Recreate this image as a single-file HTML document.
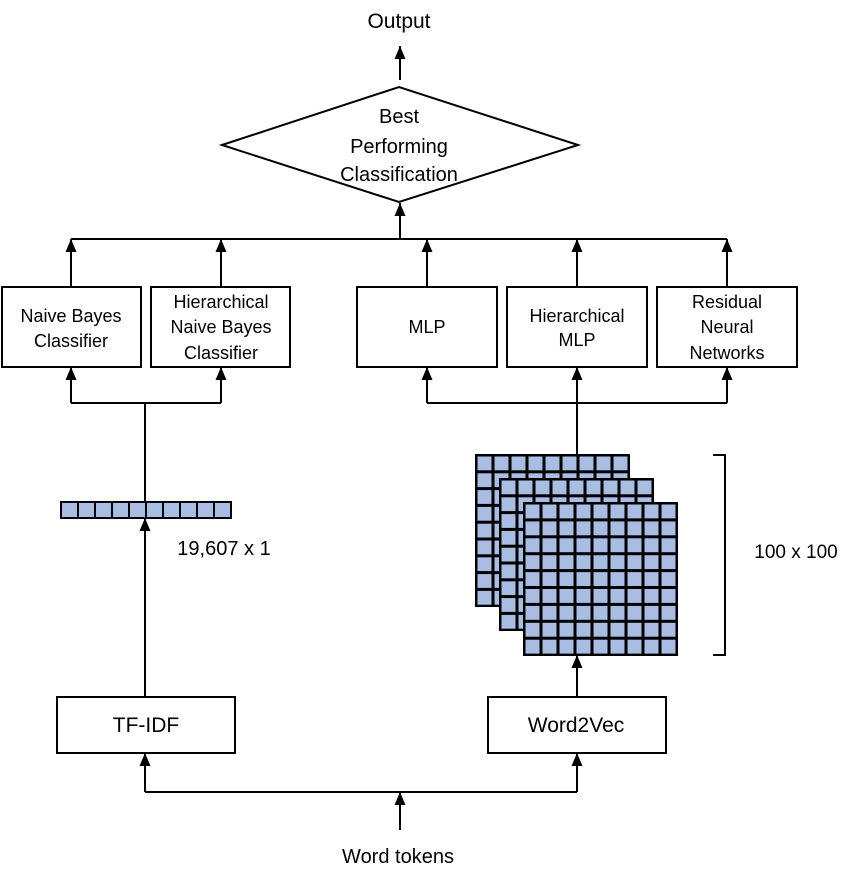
<!DOCTYPE html>
<html><head><meta charset="utf-8"><style>
html,body{margin:0;padding:0;background:#fff;}
svg{display:block;}
text{font-family:"Liberation Sans",sans-serif;font-size:18px;fill:#000;text-anchor:middle;}
</style></head><body>
<svg width="856" height="886" viewBox="0 0 856 886" xmlns="http://www.w3.org/2000/svg">
<defs>
<marker id="a" markerWidth="14" markerHeight="14" viewBox="0 0 14 14" refX="13" refY="7" orient="auto" markerUnits="userSpaceOnUse">
<path d="M0,1.5 L13,7 L0,12.5 Z" fill="#000"/>
</marker>
<pattern id="g1" x="476" y="455" width="17" height="16.8" patternUnits="userSpaceOnUse">
<rect width="17" height="16.8" fill="#a9bde3" stroke="#000" stroke-width="3"/>
</pattern>
<pattern id="g2" x="500" y="479" width="17" height="16.8" patternUnits="userSpaceOnUse">
<rect width="17" height="16.8" fill="#a9bde3" stroke="#000" stroke-width="3"/>
</pattern>
<pattern id="g3" x="524" y="503" width="17" height="16.9" patternUnits="userSpaceOnUse">
<rect width="17" height="16.9" fill="#a9bde3" stroke="#000" stroke-width="3"/>
</pattern>
</defs>
<g stroke="#000" stroke-width="2" fill="none">
<line x1="400" y1="80" x2="400" y2="46" marker-end="url(#a)"/>
<polygon points="222,145 399,87 578,145 399,202" fill="#fff"/>
<line x1="400" y1="239" x2="400" y2="203" marker-end="url(#a)"/>
<line x1="71" y1="239" x2="727" y2="239"/>
<line x1="71" y1="287" x2="71" y2="239" marker-end="url(#a)"/>
<line x1="221" y1="287" x2="221" y2="239" marker-end="url(#a)"/>
<line x1="427" y1="287" x2="427" y2="239" marker-end="url(#a)"/>
<line x1="577" y1="287" x2="577" y2="239" marker-end="url(#a)"/>
<line x1="727" y1="287" x2="727" y2="239" marker-end="url(#a)"/>
<rect x="2" y="287" width="139" height="80"/>
<rect x="151" y="287" width="139" height="80"/>
<rect x="357" y="287" width="140" height="80"/>
<rect x="507" y="287" width="140" height="80"/>
<rect x="657" y="287" width="140" height="80"/>
<polyline points="71,403 221,403"/>
<line x1="71" y1="403" x2="71" y2="367" marker-end="url(#a)"/>
<line x1="221" y1="403" x2="221" y2="367" marker-end="url(#a)"/>
<line x1="145" y1="403" x2="145" y2="697"/>
<polyline points="427,403 727,403"/>
<line x1="427" y1="403" x2="427" y2="367" marker-end="url(#a)"/>
<line x1="727" y1="403" x2="727" y2="367" marker-end="url(#a)"/>
<line x1="577" y1="455" x2="577" y2="367" marker-end="url(#a)"/>
</g>
<g stroke="#000" stroke-width="2">
<rect x="61" y="502" width="170" height="16" fill="#a9bde3"/>
<path d="M78,502v16M95,502v16M112,502v16M129,502v16M146,502v16M163,502v16M180,502v16M197,502v16M214,502v16"/>
</g>
<line x1="145" y1="697" x2="145" y2="518" stroke="#000" stroke-width="2" marker-end="url(#a)"/>
<g stroke="#000" stroke-width="2">
<rect x="476" y="455" width="153" height="151" fill="url(#g1)"/>
<rect x="500" y="479" width="153" height="151" fill="url(#g2)"/>
<rect x="524" y="503" width="153" height="152" fill="url(#g3)"/>
</g>
<line x1="577" y1="697" x2="577" y2="655" stroke="#000" stroke-width="2" marker-end="url(#a)"/>
<path d="M713,455 H725 V655 H713" fill="none" stroke="#000" stroke-width="2"/>
<g stroke="#000" stroke-width="2" fill="none">
<rect x="57" y="697" width="178" height="56"/>
<rect x="488" y="697" width="178" height="56"/>
<line x1="145" y1="792" x2="577" y2="792"/>
<line x1="145" y1="792" x2="145" y2="753" marker-end="url(#a)"/>
<line x1="577" y1="792" x2="577" y2="753" marker-end="url(#a)"/>
<line x1="400" y1="830" x2="400" y2="792" marker-end="url(#a)"/>
</g>
<text x="399" y="28" style="font-size:21px">Output</text>
<text x="399" y="123" style="font-size:20px">Best</text>
<text x="399" y="153" style="font-size:20px">Performing</text>
<text x="399" y="181" style="font-size:20px">Classification</text>
<text x="71" y="322">Naive Bayes</text>
<text x="71" y="347">Classifier</text>
<text x="221" y="308">Hierarchical</text>
<text x="221" y="333">Naive Bayes</text>
<text x="221" y="359">Classifier</text>
<text x="427" y="333">MLP</text>
<text x="577" y="322">Hierarchical</text>
<text x="577" y="346">MLP</text>
<text x="727" y="308">Residual</text>
<text x="727" y="333">Neural</text>
<text x="727" y="359">Networks</text>
<text x="224" y="555" style="font-size:20px">19,607 x 1</text>
<text x="796" y="558" style="font-size:19px">100 x 100</text>
<text x="146" y="732" style="font-size:21px">TF-IDF</text>
<text x="576" y="732" style="font-size:21px">Word2Vec</text>
<text x="398" y="863" style="font-size:20px">Word tokens</text>
</svg>
</body></html>
